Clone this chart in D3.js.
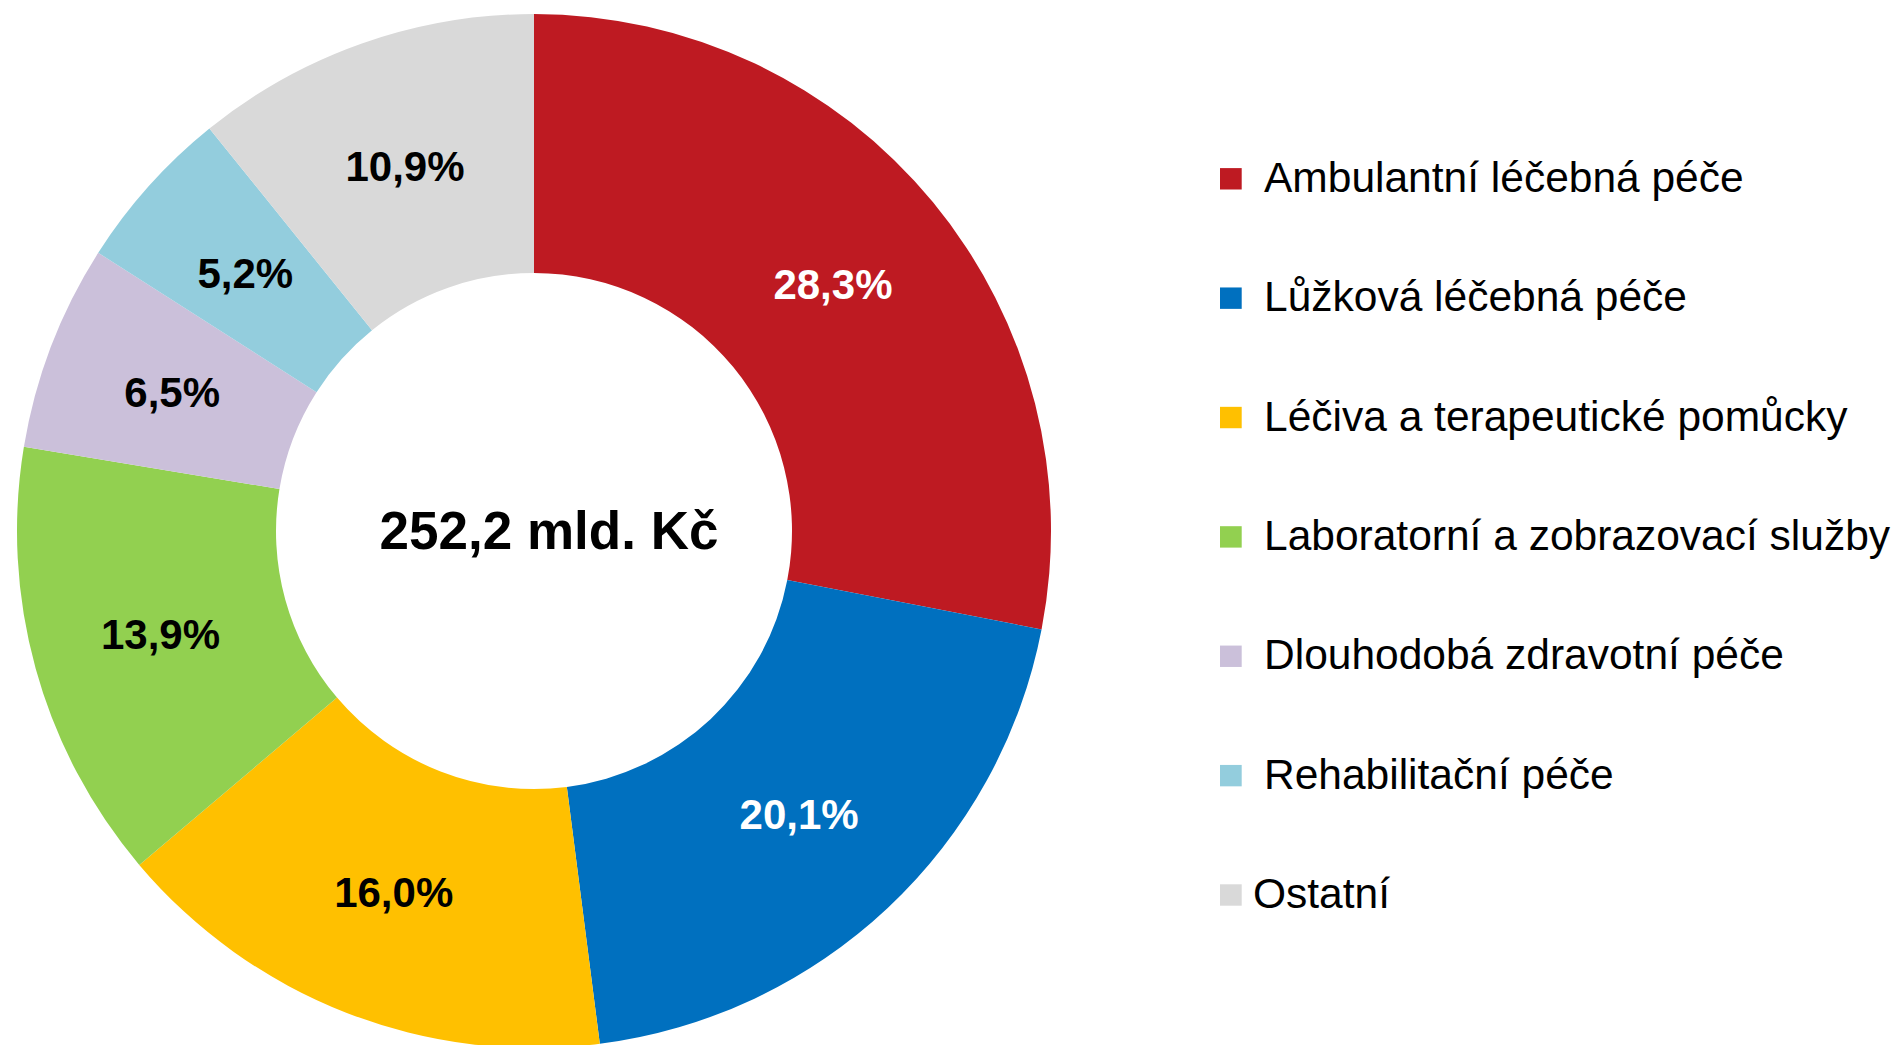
<!DOCTYPE html>
<html><head><meta charset="utf-8">
<script src="https://cdn.jsdelivr.net/npm/d3@7"></script>
<style>html,body{margin:0;padding:0;background:#fff;}svg{display:block;}</style>
</head><body>
<svg id="chart" width="1896" height="1045"></svg>
<script>
const categories = ["Ambulantní léčebná péče","Lůžková léčebná péče","Léčiva a terapeutické pomůcky","Laboratorní a zobrazovací služby","Dlouhodobá zdravotní péče","Rehabilitační péče","Ostatní"];
const values = [28.3, 20.1, 16.0, 13.9, 6.5, 5.2, 10.9];
const labels = ["28,3%","20,1%","16,0%","13,9%","6,5%","5,2%","10,9%"];
const colors = ["#BE1A22","#0070BF","#FFC000","#92D050","#CBC0DA","#93CDDD","#D9D9D9"];
const labelColors = ["#fff","#fff","#000","#000","#000","#000","#000"];
const centerText = "252,2 mld. Kč";

const FONT = "'Liberation Sans', Arial, Helvetica, sans-serif";
const svg = d3.select("#chart");
const cx = 534, cy = 531, rOut = 517, rIn = 258;
const data = categories.map((c,i)=>({cat:c, value:values[i], label:labels[i], color:colors[i], lc:labelColors[i]}));
const pie = d3.pie().sort(null).value(d=>d.value);
const arc = d3.arc().innerRadius(rIn).outerRadius(rOut);
const g = svg.append("g").attr("transform",`translate(${cx},${cy})`);
const arcs = pie(data);
g.selectAll("path").data(arcs).join("path").attr("d",arc).attr("fill",d=>d.data.color);
g.selectAll("text.lbl").data(arcs).join("text").attr("class","lbl")
  .attr("x",d=>arc.centroid(d)[0]).attr("y",d=>arc.centroid(d)[1]+15)
  .attr("text-anchor","middle").attr("font-family",FONT)
  .attr("font-weight","bold").attr("font-size",42).attr("fill",d=>d.data.lc).text(d=>d.data.label);
svg.append("text").attr("x",549).attr("y",549).attr("text-anchor","middle")
  .attr("font-family",FONT).attr("font-weight","bold")
  .attr("font-size",53).attr("fill","#000").text(centerText);

const leg = svg.append("g");
const legY = d3.scalePoint().domain(categories).range([178.8, 895]);
const rows = leg.selectAll("g").data(data).join("g").attr("transform",d=>`translate(0,${legY(d.cat)})`);
rows.append("rect").attr("x",1220).attr("y",-10.7).attr("width",21.7).attr("height",21.4).attr("fill",d=>d.color);
rows.append("text").attr("x",(d,i)=>i===data.length-1?1253:1264).attr("y",13)
  .attr("font-family",FONT).attr("font-size",42.5).attr("fill","#000").text(d=>d.cat);
</script>
</body></html>
